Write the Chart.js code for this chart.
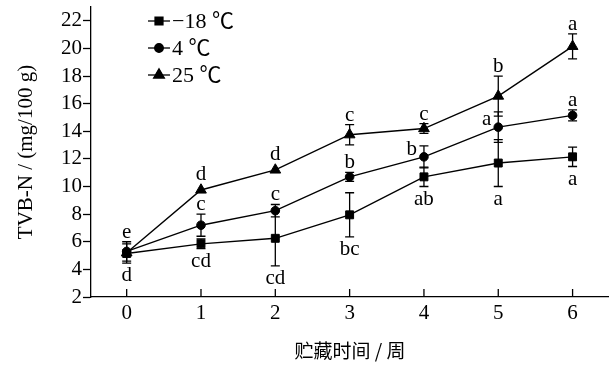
<!DOCTYPE html>
<html>
<head>
<meta charset="utf-8">
<script src="https://cdn.jsdelivr.net/npm/chart.js@4/dist/chart.umd.min.js"></script>
<style>
  html, body { margin: 0; padding: 0; background: #fff; }
  #wrap { width: 609px; height: 365px; }
</style>
</head>
<body>
<div id="wrap"><canvas id="c" width="609" height="365"></canvas></div>
<script>
// Storage time (weeks)
const weeks = [0, 1, 2, 3, 4, 5, 6];
const yTicks = [2, 4, 6, 8, 10, 12, 14, 16, 18, 20, 22];

// TVB-N (mg/100 g), mean values
const tvbnFrozen  = [5.15, 5.85, 6.25, 7.95, 10.7, 11.7, 12.15];   // -18 ℃
const tvbnChilled = [5.3, 7.2, 8.25, 10.7, 12.15, 14.3, 15.15];    // 4 ℃
const tvbnRoom    = [5.2, 9.75, 11.2, 13.75, 14.2, 16.55, 20.15];  // 25 ℃

// Standard deviations
const sdFrozen  = [0.7, 0.35, 2.0, 1.6, 0.7, 1.7, 0.7];
const sdChilled = [0.7, 0.8, 0.45, 0.33, 0.8, 1.1, 0.4];
const sdRoom    = [0, 0, 0, 0.73, 0.35, 1.45, 0.9];

// Significance letters
const sigFrozen  = ['d', 'cd', 'cd', 'bc', 'ab', 'a', 'a'];
const sigChilled = ['e', 'c', 'c', 'b', 'b', 'a', 'a'];
const sigRoom    = ['', 'd', 'd', 'c', 'c', 'b', 'a'];

// Where each letter sits relative to its point
const sideFrozen  = ['below', 'below', 'below', 'below', 'below', 'below', 'below'];
const sideChilled = ['above', 'above', 'above', 'above', 'left', 'left', 'above'];
const sideRoom    = ['above', 'above', 'above', 'above', 'above', 'above', 'above'];

const seriesNames = ['\u221218 \u2103', '4 \u2103', '25 \u2103'];

const SERIF = '"Liberation Serif", "Times New Roman", serif';
const LEGEND_FONT = '"Liberation Serif", "Noto Sans CJK SC", serif';
const INK = '#000';

function pts(vals) { return weeks.map((w, i) => ({ x: w, y: vals[i] })); }

const series = [
  { label: seriesNames[0], vals: tvbnFrozen,  sd: sdFrozen,  sig: sigFrozen,  side: sideFrozen,  style: 'rect',     radius: 5.6 },
  { label: seriesNames[1], vals: tvbnChilled, sd: sdChilled, sig: sigChilled, side: sideChilled, style: 'circle',   radius: 4.3 },
  { label: seriesNames[2], vals: tvbnRoom,    sd: sdRoom,    sig: sigRoom,    side: sideRoom,    style: 'triangle', radius: 6.2 }
];

// Error bars with caps, drawn beneath the markers
const errorBars = {
  id: 'errorBars',
  beforeDatasetsDraw(chart) {
    const { ctx, scales: { x, y } } = chart;
    ctx.save();
    ctx.strokeStyle = INK;
    ctx.lineWidth = 1.3;
    series.forEach(s => {
      weeks.forEach((w, i) => {
        if (!s.sd[i]) return;
        const px = x.getPixelForValue(w);
        const top = y.getPixelForValue(s.vals[i] + s.sd[i]);
        const bot = y.getPixelForValue(s.vals[i] - s.sd[i]);
        ctx.beginPath();
        ctx.moveTo(px, top); ctx.lineTo(px, bot);
        ctx.moveTo(px - 4.5, top); ctx.lineTo(px + 4.5, top);
        ctx.moveTo(px - 4.5, bot); ctx.lineTo(px + 4.5, bot);
        ctx.stroke();
      });
    });
    ctx.restore();
  }
};

// Significance letters next to each point
const sigLetters = {
  id: 'sigLetters',
  afterDatasetsDraw(chart) {
    const { ctx, scales: { x, y } } = chart;
    ctx.save();
    ctx.fillStyle = INK;
    ctx.font = '21px ' + SERIF;
    ctx.textBaseline = 'alphabetic';
    series.forEach(s => {
      weeks.forEach((w, i) => {
        const t = s.sig[i];
        if (!t) return;
        const px = x.getPixelForValue(w);
        const py = y.getPixelForValue(s.vals[i]);
        const side = s.side[i];
        if (side === 'above') {
          const topEdge = s.sd[i] ? y.getPixelForValue(s.vals[i] + s.sd[i]) : py - s.radius;
          ctx.textAlign = 'center';
          ctx.fillText(t, px, topEdge - 4);
        } else if (side === 'below') {
          const botEdge = s.sd[i] ? y.getPixelForValue(s.vals[i] - s.sd[i]) : py + s.radius;
          ctx.textAlign = 'center';
          ctx.fillText(t, px, botEdge + 18);
        } else {
          ctx.textAlign = 'right';
          ctx.fillText(t, px - 7, py - 2);
        }
      });
    });
    ctx.restore();
  }
};

// Inward tick marks on the week axis, plus the in-plot legend
const extras = {
  id: 'extras',
  afterDraw(chart) {
    const { ctx, scales: { x }, chartArea } = chart;
    ctx.save();
    ctx.strokeStyle = INK;
    ctx.lineWidth = 1.3;
    ctx.beginPath();
    weeks.forEach(w => {
      const px = x.getPixelForValue(w);
      ctx.moveTo(px, chartArea.bottom);
      ctx.lineTo(px, chartArea.bottom - 8);
    });
    ctx.stroke();

    const lx = 159, ly0 = 21, step = 27;
    ctx.font = '22px ' + LEGEND_FONT;
    ctx.textAlign = 'left';
    ctx.textBaseline = 'middle';
    ctx.fillStyle = INK;
    series.forEach((s, k) => {
      const ly = ly0 + k * step;
      ctx.beginPath();
      ctx.moveTo(lx - 11, ly); ctx.lineTo(lx + 11, ly);
      ctx.stroke();
      Chart.helpers.drawPoint(ctx, { pointStyle: s.style, radius: s.radius, borderWidth: 1 }, lx, ly);
      ctx.fill();
      ctx.fillText(s.label, lx + 13, ly + 1);
    });
    ctx.restore();
  }
};

new Chart(document.getElementById('c'), {
  type: 'line',
  data: {
    datasets: series.map(s => ({
      label: s.label,
      data: pts(s.vals),
      borderColor: INK,
      backgroundColor: INK,
      borderWidth: 1.4,
      pointStyle: s.style,
      pointRadius: s.radius,
      pointBackgroundColor: INK,
      pointBorderColor: INK,
      pointBorderWidth: 1,
      tension: 0,
      fill: false
    }))
  },
  options: {
    responsive: false,
    animation: false,
    events: [],
    layout: { padding: { top: 7, right: 0, bottom: 0, left: 0 }, autoPadding: false },
    plugins: { legend: { display: false }, tooltip: { enabled: false } },
    scales: {
      x: {
        type: 'linear',
        min: -0.48,
        max: 6.49,
        afterBuildTicks: sc => { sc.ticks = weeks.map(v => ({ value: v })); },
        afterFit: sc => { sc.height = 68; sc.paddingLeft = 0; sc.paddingRight = 0; },
        grid: { display: true, drawOnChartArea: false, drawTicks: false },
        border: { display: true, color: INK, width: 1.3 },
        ticks: { color: INK, font: { family: SERIF, size: 21 }, padding: 4, maxRotation: 0 },
        title: {
          display: true,
          text: '贮藏时间 / 周',
          color: INK,
          font: { family: '"Noto Sans CJK SC", sans-serif', size: 19 },
          padding: { top: 0, bottom: 3 }
        }
      },
      y: {
        type: 'linear',
        min: 2,
        max: 23,
        afterBuildTicks: sc => { sc.ticks = yTicks.map(v => ({ value: v })); },
        afterFit: sc => { sc.width = 91; sc.paddingTop = 0; sc.paddingBottom = 0; },
        grid: { display: true, drawOnChartArea: false, drawTicks: true, tickLength: 8, color: INK, tickWidth: 1.3 },
        border: { display: true, color: INK, width: 1.3 },
        ticks: { color: INK, font: { family: SERIF, size: 21 }, padding: 1 },
        title: {
          display: true,
          text: 'TVB-N / (mg/100 g)',
          color: INK,
          font: { family: SERIF, size: 21 },
          padding: { top: 14, bottom: 0 }
        }
      }
    }
  },
  plugins: [errorBars, sigLetters, extras]
});
</script>
</body>
</html>
